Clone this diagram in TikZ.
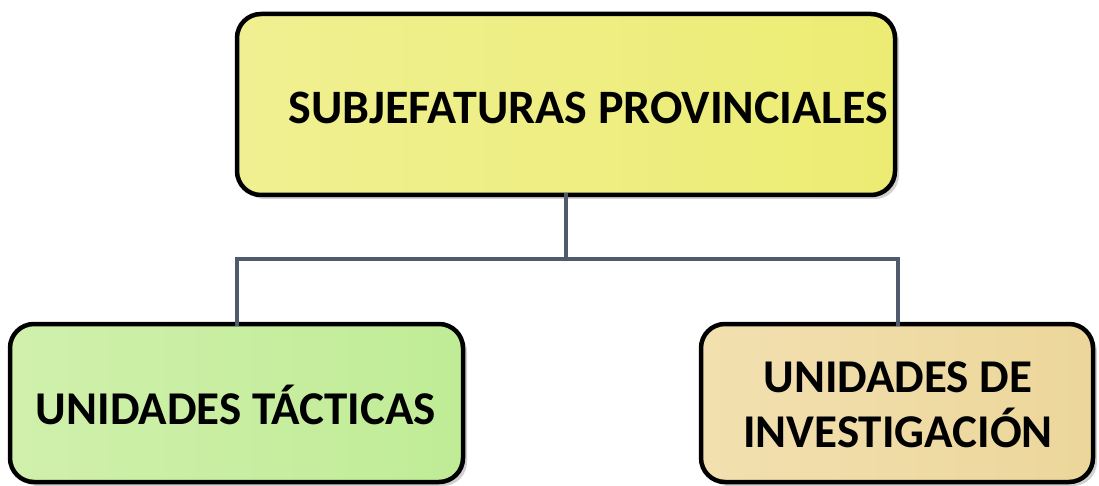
\documentclass[tikz,border=0pt]{standalone}
\usepackage{fontspec}
\setmainfont{Carlito}
\usetikzlibrary{shadows}
\definecolor{topA}{HTML}{F0F092}
\definecolor{topB}{HTML}{ECEC74}
\definecolor{grnA}{HTML}{D0F0AC}
\definecolor{grnB}{HTML}{C0EC96}
\definecolor{tanA}{HTML}{F2E0B0}
\definecolor{tanB}{HTML}{ECD69A}
\definecolor{conn}{HTML}{4F5A6C}
\tikzset{
  box/.style={draw=black, line width=4.5pt, rounded corners=24pt,
    drop shadow={shadow xshift=4pt, shadow yshift=-4pt, fill=black!18, opacity=1}},
  lbl/.style={text=black, align=center},
  wire/.style={draw=conn, line width=4pt}
}
\begin{document}
\begin{tikzpicture}[x=1pt,y=-1pt]
\useasboundingbox (0,0) rectangle (1099,486);
% top box
\path[box, left color=topA, right color=topB]
  (237,14) rectangle (895,195);
\node[lbl, font=\fontsize{48}{54}\selectfont\bfseries] (top) at (588,108) {SUBJEFATURAS PROVINCIALES};
\coordinate (topS) at (566,193);
% bottom boxes
\path[box, left color=grnA, right color=grnB] (10,324) rectangle (463,482);
\node[lbl, font=\fontsize{47}{54}\selectfont\bfseries] (left) at (236,405) {UNIDADES TÁCTICAS};
\coordinate (leftN) at (237,326);
\path[box, left color=tanA, right color=tanB] (701,324) rectangle (1093,482);
\node[lbl, font=\fontsize{47}{55}\selectfont\bfseries] (right) at (898,405) {UNIDADES DE\\INVESTIGACIÓN};
\coordinate (rightN) at (898,326);
% connectors
\coordinate (mid) at (566,259);
\draw[wire] (topS) -- (mid);
\draw[wire] (leftN) |- (rightN |- mid) -- (rightN);
\end{tikzpicture}
\end{document}
